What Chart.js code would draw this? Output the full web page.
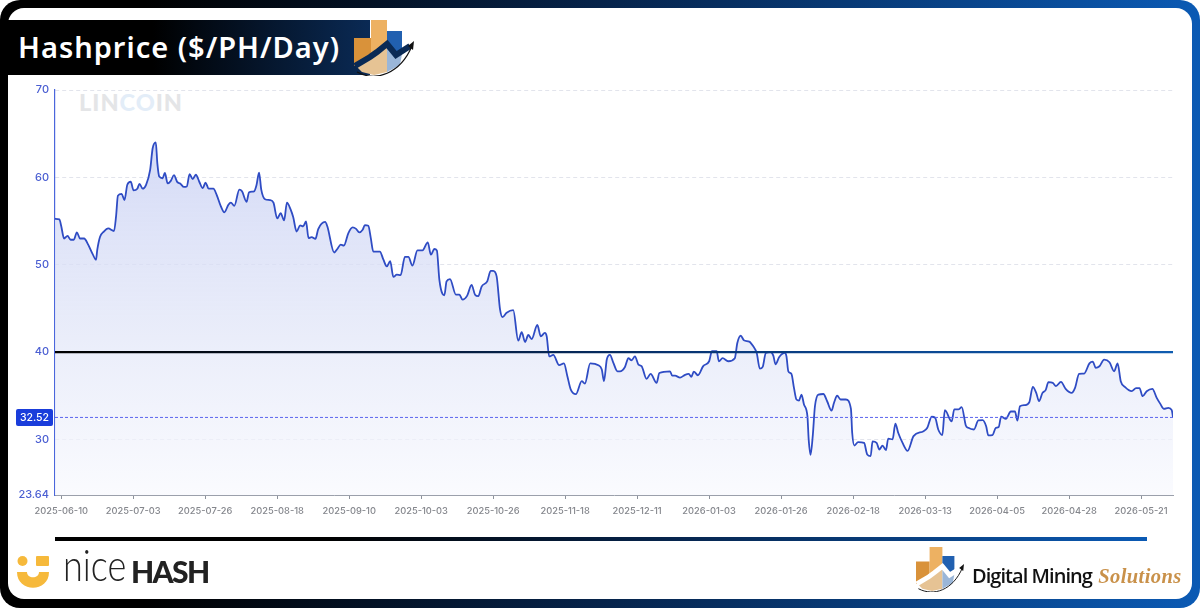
<!DOCTYPE html>
<html>
<head>
<meta charset="utf-8">
<title>Hashprice ($/PH/Day)</title>
<script src="https://cdn.jsdelivr.net/npm/chart.js@4"></script>
<style>
    html, body { margin: 0; padding: 0; background: #fff; }
    #page { position: relative; width: 1200px; height: 608px; overflow: hidden; background: #fff; font-family: "Noto Sans", sans-serif; }
    #frame { position: absolute; left: 0; top: 0; width: 1200px; height: 608px; box-sizing: border-box; border-radius: 20px; background: linear-gradient(90deg, #000 0%, #000 12%, #06234a 50%, #0b5ab4 100%); }
    #inner { position: absolute; left: 8px; top: 8px; width: 1184px; height: 591px; border-radius: 16px; background: #fff; }
    #banner { position: absolute; left: 8px; top: 20px; width: 362px; height: 55px; background: linear-gradient(90deg, #000 0%, #000 40%, #0a2a55 100%); }
    #title { position: absolute; left: 18px; top: 27px; color: #fff; font-size: 29px; line-height: 40px; font-weight: 600; letter-spacing: 1px; white-space: nowrap; }
    #watermark { position: absolute; left: 79px; top: 88px; font: 900 23.5px/28px Lato, sans-serif; letter-spacing: 1px; color: #e4e5e7; white-space: nowrap; }
    #watermark span { color: #e3edf8; }
    #divider { position: absolute; left: 55px; top: 537px; width: 1092px; height: 4px; background: linear-gradient(90deg, #000 0%, #000 25%, #06234a 55%, #0b5ab4 100%); }
    #nice { position: absolute; left: 63px; top: 539px; font: 300 44px/50px Lato, sans-serif; color: #222; white-space: nowrap; transform: scaleX(0.82); transform-origin: left top; }
    #hash { position: absolute; left: 131px; top: 549px; font: 900 30px/44px Lato, sans-serif; color: #222; white-space: nowrap; letter-spacing: -1.6px; }
    #dms { position: absolute; left: 972px; top: 563px; font: 600 20px/26px "Open Sans", sans-serif; color: #111; white-space: nowrap; letter-spacing: -0.95px; }
    #dms i { font: italic 700 20.5px/26px "Liberation Serif", serif; color: #c9914a; margin-left: 2px; letter-spacing: 0.4px; }
    svg { position: absolute; overflow: visible; }
    canvas { position: absolute; left: 0; top: 0; }
</style>
</head>
<body>
<div id="page">
    <div id="frame"></div>
    <div id="inner"></div>
    <div id="banner"></div>
    <div id="title">Hashprice ($/PH/Day)</div>

    <svg width="0" height="0">
        <symbol id="dms-logo" viewBox="0 0 60 56">
            <polygon points="0,18 17,18 17,35 0,46" fill="#d9923a"/>
            <polygon points="17,0 33,0 33,24 23,32 17,36" fill="#edb162"/>
            <polygon points="33,11 48,11 48,30 42,35 33,24" fill="#2160b0"/>
            <polygon points="3,47 16,39 23,34 33,27 33,52 20,55 8,52" fill="#e6c394"/>
            <polygon points="33,27 42,38 48,34 46,45 33,52" fill="#9ab6d8"/>
            <polyline points="1,46 16,37 23,32 33,24 42,35 56,26" fill="none" stroke="currentColor" stroke-width="6"/>
            <path d="M3,52 C22,62 46,54 58,26" fill="none" stroke="#111" stroke-width="1.2"/>
            <polygon points="60,21 59,30 54,26" fill="#111"/>
        </symbol>
    </svg>
    <svg style="left:354px;top:20px;color:#0a2a55" width="60" height="56"><use href="#dms-logo"/></svg>

    <div id="watermark">LIN<span>CO</span>IN</div>
    <canvas id="hashprice-chart" width="1200" height="608"></canvas>

    <div id="divider"></div>

    <svg style="left:17px;top:555px" width="32" height="33" viewBox="0 0 32 33">
        <circle cx="5.5" cy="6" r="5" fill="#f6b93b"/>
        <rect x="19" y="1" width="13" height="10" rx="1" fill="#f6b93b"/>
        <path d="M0,17 H10 C10,24 22,24 22,17 H32 C32,38 0,38 0,17 Z" fill="#f6b93b"/>
    </svg>
    <div id="nice">nice</div>
    <div id="hash">HASH</div>

    <svg style="left:916px;top:547px;color:#fff" width="48" height="45"><use href="#dms-logo"/></svg>
    <div id="dms">Digital Mining <i>Solutions</i></div>
</div>

<script>
    // Days since 2025-06-08 at each turn of the line
    const dayOffsets = [
        0, 1.4, 2, 2.9, 4, 5, 6, 7, 8, 9.3, 10.6, 12, 13.1, 13.5, 14.4, 15.6, 17, 18.85, 19.5, 20.1,
        21.3, 22.2, 23.1, 24.2, 25.1, 26.3, 27, 28, 29.1, 30.4, 31.2, 32.2, 32.7, 33.3, 34.4, 35.1, 36, 37, 38, 39.1,
        40, 41.2, 42.1, 43, 44, 45, 46.1, 47.2, 48.1, 49.1, 50.6, 51.65, 53, 54.1, 55.4, 56.2, 57.3, 58.9, 59.75, 61.2,
        62, 63.6, 64.4, 65.2, 65.9, 67.1, 68.7, 69.8, 71, 72.1, 73.2, 74.1, 75.3, 76.1, 77.2, 78.3, 79.3, 80.2, 81, 82,
        83.2, 84.1, 86.3, 87, 89.2, 90.2, 91.3, 92.3, 93.7, 95.1, 96.2, 97.2, 98.3, 99, 100.1, 100.9, 101.7, 103.8, 104.9, 106,
        107.1, 108.1, 109.2, 110.4, 111.8, 112.9, 114.2, 115.8, 117.4, 119.1, 120.1, 121.2, 122, 122.8, 123.8, 124.4, 125.1, 126.2, 128.1, 129.2,
        130.2, 131.7, 133.1, 134.2, 135.25, 136.3, 138.1, 139.2, 140, 141.1, 142.2, 143, 144.3, 146.4, 148, 149.1, 150.2, 151.2, 152.3, 154.1,
        155.2, 156.5, 157.1, 157.9, 159.2, 161.1, 162.6, 163.7, 164.8, 166.4, 168.3, 169.3, 171, 173.6, 174.7, 175.4, 176.3, 177.3, 178.4, 179.7,
        180.5, 182.1, 183.2, 184.2, 185.3, 186.4, 187.4, 189, 190.3, 192.2, 193.1, 196.5, 197.2, 198.1, 199.7, 201.3, 202.5, 203.3, 204.1, 205.4,
        207.1, 209, 209.9, 211.4, 212.1, 213.3, 215.1, 217.2, 218, 219.1, 220.1, 221.8, 223.1, 224.2, 225.2, 226.1, 227.1, 228.6, 229.5, 230.2,
        231.4, 233.2, 233.7, 234.3, 235.3, 236.1, 236.9, 237.7, 238.5, 239.3, 240.4, 240.8, 241.4, 242.1, 242.8, 243.9, 245.5, 246.7, 248.1, 248.9,
        249.9, 251, 252.7, 254.3, 254.7, 255.4, 256.6, 258.5, 259.5, 260.6, 261.2, 262.5, 263.4, 264.4, 265.5, 266.2, 267.6, 268.5, 269.4, 270.8,
        272.4, 274.3, 277.5, 278.7, 280.1, 281.2, 282.2, 283.5, 284.3, 286.5, 287.3, 288.6, 289.7, 291, 291.8, 293.6, 295, 296.4, 297.5, 298.2,
        299.5, 300.6, 301.5, 302.3, 303.8, 305.4, 306.7, 307.5, 308.3, 309.9, 311.3, 312.4, 313.5, 314.4, 315.5, 316.5, 317.4, 318.8, 319.8, 321.4,
        322.9, 324.8, 325.9, 327.2, 328.8, 330.5, 331.6, 332.5, 333.7, 335.2, 336.9, 338.4, 339.5, 340.5, 341.9, 344, 345.4, 346.5, 347.5, 348.8,
        350.6, 352, 353.1, 354.3, 355.7, 356.8, 357.2
    ];
    const hashprice = [
        55.26, 55.2, 54.4, 53, 53.3, 52.86, 52.86, 53.7, 53, 53, 52.3, 51.25, 50.57, 51.7, 53.2, 53.8, 54.15, 53.85, 55.5, 57.9,
        58.1, 57.4, 59.15, 59.5, 58.5, 58.7, 59.26, 58.7, 59.15, 60.85, 63.33, 64, 61.6, 60.1, 59.9, 60.5, 59.3, 59.6, 60.25, 59.45,
        59.3, 58.9, 58.95, 60.36, 59.8, 60.3, 59.5, 58.76, 59.4, 58.7, 58.7, 58, 56.67, 56, 56.86, 57.1, 56.75, 58.6, 58.4, 57.2,
        58.3, 58.4, 59.15, 60.55, 58.6, 57.5, 57.4, 57.1, 55.3, 55.9, 55.07, 57.1, 56.3, 55.45, 53.8, 54.5, 54.4, 54.95, 53.05, 53.16,
        52.95, 54.08, 54.9, 54.4, 51.4, 51.8, 52.3, 52.2, 53.6, 54.27, 54.1, 53.7, 54, 54.53, 54.46, 53.05, 51.5, 51.5, 50.6, 49.8,
        50.4, 48.6, 48.86, 48.8, 50.9, 50.9, 49.9, 51.64, 51.64, 52.55, 51.15, 51.8, 51.64, 48.3, 46.65, 46.5, 48.1, 48.36, 46.57, 46.57,
        46, 46.46, 47.7, 46.57, 46.4, 47.5, 48.1, 49.3, 49.3, 48.67, 44.85, 44, 44.5, 44.8, 41.3, 42.27, 41.16, 41.96, 41.5, 43.1,
        41.8, 42.2, 41.8, 39.5, 39.67, 38.5, 38.7, 37.24, 35.7, 35.18, 36.67, 36.4, 38.7, 38.5, 38, 36.67, 39.15, 39.67, 38.76, 37.8,
        37.8, 38.3, 39.3, 39.06, 39.5, 38.57, 38.4, 36.93, 37.5, 36.47, 37.6, 37.8, 37.3, 37.3, 37.08, 37.4, 37.5, 37.16, 37.77, 37.35,
        38.4, 38.95, 40.1, 40.1, 38.95, 39.3, 38.95, 39.3, 41.04, 41.88, 41.35, 41.2, 40.66, 39.9, 38.1, 38.3, 39.9, 40, 39.6, 38.6,
        39.44, 39.9, 39.5, 37.8, 37.5, 35.9, 34.57, 34.45, 35.14, 34, 32.66, 30, 28.24, 30.4, 33.8, 35.14, 35.2, 34.37, 33.3, 34.2,
        35, 34.57, 34.57, 33.5, 30.76, 29.3, 29.7, 29.6, 28.28, 28.1, 29.77, 29.6, 28.85, 29.3, 28.77, 30.1, 30, 31.8, 30.76, 29.6,
        28.7, 30.38, 30.95, 31.33, 32.6, 32.48, 31.14, 30.5, 33.35, 32.06, 33.43, 33.43, 33.7, 31.6, 31.33, 31.14, 32.17, 32.2, 31.5, 30.46,
        30.5, 31.33, 31.41, 32.6, 32.36, 33.2, 33.2, 32.17, 33.8, 33.93, 34.27, 36.02, 35.33, 34.38, 35.33, 35.64, 36.55, 36.48, 36.1, 36.59,
        35.79, 35.33, 35.9, 37.5, 37.54, 38.7, 38.9, 38.2, 38.38, 39.14, 38.84, 37.8, 38.7, 36.67, 35.98, 35.52, 35.87, 35.87, 34.95, 35.52,
        35.79, 34.76, 34.1, 33.5, 33.62, 33.35, 32.52
    ];

    const tickDays = [2, 25, 48, 71, 94, 117, 140, 163, 186, 209, 232, 255, 278, 301, 324, 347];
    const tickDates = [
        '2025-06-10', '2025-07-03', '2025-07-26', '2025-08-18', '2025-09-10', '2025-10-03', '2025-10-26', '2025-11-18',
        '2025-12-11', '2026-01-03', '2026-01-26', '2026-02-18', '2026-03-13', '2026-04-05', '2026-04-28', '2026-05-21'
    ];
    const yTicks = [23.64, 30, 40, 50, 60, 70];
    const lastDay = 357.2;
    const referenceLevel = 40;
    const currentPrice = 32.52;

    const toPoints = (xs, ys) => xs.map((x, i) => ({ x: x, y: ys[i] }));

    function areaGradient(context) {
        const { ctx, chartArea } = context.chart;
        if (!chartArea) return 'transparent';
        const g = ctx.createLinearGradient(0, chartArea.top + 50, 0, chartArea.bottom);
        g.addColorStop(0, 'rgba(205, 212, 245, 0.85)');
        g.addColorStop(0.5, 'rgba(222, 227, 247, 0.7)');
        g.addColorStop(1, 'rgba(248, 249, 254, 0.7)');
        return g;
    }

    function levelGradient(context) {
        const { ctx, chartArea } = context.chart;
        if (!chartArea) return '#000';
        const g = ctx.createLinearGradient(chartArea.left, 0, chartArea.right, 0);
        g.addColorStop(0, '#000');
        g.addColorStop(0.3, '#04152f');
        g.addColorStop(0.6, '#08387a');
        g.addColorStop(1, '#0f5cb0');
        return g;
    }

    // Blue price tag on the y axis
    const priceTag = {
        id: 'priceTag',
        afterDraw(chart) {
            const { ctx, scales } = chart;
            const y = scales.y.getPixelForValue(currentPrice);
            ctx.save();
            ctx.fillStyle = '#1a3ddb';
            ctx.beginPath();
            ctx.roundRect(16, y - 8.5, 37, 17, 2);
            ctx.fill();
            ctx.fillStyle = '#fff';
            ctx.font = '500 10.5px Inter, sans-serif';
            ctx.textAlign = 'center';
            ctx.textBaseline = 'middle';
            ctx.fillText(currentPrice.toFixed(2), 34.5, y + 0.5);
            ctx.restore();
        }
    };

    new Chart(document.getElementById('hashprice-chart').getContext('2d'), {
        type: 'line',
        plugins: [priceTag],
        data: {
            datasets: [
                {
                    label: 'Current',
                    data: toPoints([0, lastDay], [currentPrice, currentPrice]),
                    borderColor: '#5a64ee',
                    borderWidth: 1,
                    borderDash: [3, 2],
                    pointRadius: 0,
                    order: 0
                },
                {
                    label: 'Reference',
                    data: toPoints([0, lastDay], [referenceLevel, referenceLevel]),
                    borderColor: levelGradient,
                    borderWidth: 2.4,
                    pointRadius: 0,
                    order: 1
                },
                {
                    label: 'Hashprice',
                    data: toPoints(dayOffsets, hashprice),
                    borderColor: '#2f4cc4',
                    borderWidth: 1.8,
                    backgroundColor: areaGradient,
                    fill: 'start',
                    pointRadius: 0,
                    cubicInterpolationMode: 'monotone',
                    order: 2
                }
            ]
        },
        options: {
            responsive: false,
            animation: false,
            layout: { padding: { left: 0, right: 27, top: 90, bottom: 73 } },
            plugins: { legend: { display: false }, tooltip: { enabled: false } },
            scales: {
                x: {
                    type: 'linear',
                    min: 0,
                    max: lastDay,
                    afterFit: (scale) => { scale.height = 40; },
                    afterBuildTicks: (scale) => { scale.ticks = tickDays.map(v => ({ value: v })); },
                    border: { color: '#9ba0ab', width: 1 },
                    grid: { drawOnChartArea: false, drawTicks: true, tickLength: 4, tickColor: '#8d929c' },
                    ticks: {
                        autoSkip: false,
                        maxRotation: 0,
                        padding: 7,
                        color: '#85878d',
                        font: { family: 'Inter', size: 9.3, weight: '500' },
                        callback: (value) => tickDates[tickDays.indexOf(value)]
                    }
                },
                y: {
                    min: yTicks[0],
                    max: yTicks[yTicks.length - 1],
                    afterFit: (scale) => { scale.width = 55; },
                    afterBuildTicks: (scale) => { scale.ticks = yTicks.map(v => ({ value: v })); },
                    border: { color: '#4a66dc', width: 1.2, dash: [4, 3] },
                    grid: {
                        drawTicks: false,
                        color: (c) => c.tick.value === yTicks[0] ? 'transparent' : '#e2e4ec',
                        lineWidth: 1
                    },
                    ticks: {
                        padding: 6,
                        color: '#4a5ed2',
                        font: { family: 'Inter', size: 11, weight: '500' },
                        callback: (value) => value
                    }
                }
            }
        }
    });
</script>
</body>
</html>
